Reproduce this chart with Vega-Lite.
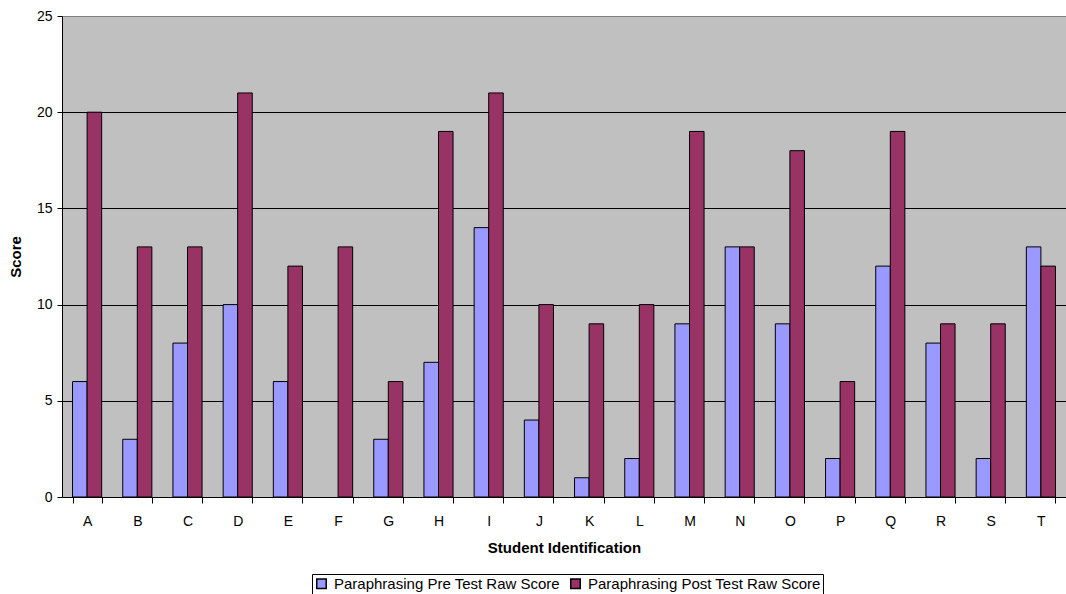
{
  "$schema": "https://vega.github.io/schema/vega-lite/v6.json",
  "autosize": "none",
  "width": 1004,
  "height": 481,
  "padding": {"left": 62, "top": 16, "right": 0, "bottom": 97},
  "background": "white",
  "config": {
    "font": "Liberation Sans",
    "view": {"fill": "#C0C0C0", "stroke": null}
  },
  "data": {
    "values": [
      {"student": "A", "test": "Paraphrasing Pre Test Raw Score", "score": 6},
      {"student": "A", "test": "Paraphrasing Post Test Raw Score", "score": 20},
      {"student": "B", "test": "Paraphrasing Pre Test Raw Score", "score": 3},
      {"student": "B", "test": "Paraphrasing Post Test Raw Score", "score": 13},
      {"student": "C", "test": "Paraphrasing Pre Test Raw Score", "score": 8},
      {"student": "C", "test": "Paraphrasing Post Test Raw Score", "score": 13},
      {"student": "D", "test": "Paraphrasing Pre Test Raw Score", "score": 10},
      {"student": "D", "test": "Paraphrasing Post Test Raw Score", "score": 21},
      {"student": "E", "test": "Paraphrasing Pre Test Raw Score", "score": 6},
      {"student": "E", "test": "Paraphrasing Post Test Raw Score", "score": 12},
      {"student": "F", "test": "Paraphrasing Pre Test Raw Score", "score": 0},
      {"student": "F", "test": "Paraphrasing Post Test Raw Score", "score": 13},
      {"student": "G", "test": "Paraphrasing Pre Test Raw Score", "score": 3},
      {"student": "G", "test": "Paraphrasing Post Test Raw Score", "score": 6},
      {"student": "H", "test": "Paraphrasing Pre Test Raw Score", "score": 7},
      {"student": "H", "test": "Paraphrasing Post Test Raw Score", "score": 19},
      {"student": "I", "test": "Paraphrasing Pre Test Raw Score", "score": 14},
      {"student": "I", "test": "Paraphrasing Post Test Raw Score", "score": 21},
      {"student": "J", "test": "Paraphrasing Pre Test Raw Score", "score": 4},
      {"student": "J", "test": "Paraphrasing Post Test Raw Score", "score": 10},
      {"student": "K", "test": "Paraphrasing Pre Test Raw Score", "score": 1},
      {"student": "K", "test": "Paraphrasing Post Test Raw Score", "score": 9},
      {"student": "L", "test": "Paraphrasing Pre Test Raw Score", "score": 2},
      {"student": "L", "test": "Paraphrasing Post Test Raw Score", "score": 10},
      {"student": "M", "test": "Paraphrasing Pre Test Raw Score", "score": 9},
      {"student": "M", "test": "Paraphrasing Post Test Raw Score", "score": 19},
      {"student": "N", "test": "Paraphrasing Pre Test Raw Score", "score": 13},
      {"student": "N", "test": "Paraphrasing Post Test Raw Score", "score": 13},
      {"student": "O", "test": "Paraphrasing Pre Test Raw Score", "score": 9},
      {"student": "O", "test": "Paraphrasing Post Test Raw Score", "score": 18},
      {"student": "P", "test": "Paraphrasing Pre Test Raw Score", "score": 2},
      {"student": "P", "test": "Paraphrasing Post Test Raw Score", "score": 6},
      {"student": "Q", "test": "Paraphrasing Pre Test Raw Score", "score": 12},
      {"student": "Q", "test": "Paraphrasing Post Test Raw Score", "score": 19},
      {"student": "R", "test": "Paraphrasing Pre Test Raw Score", "score": 8},
      {"student": "R", "test": "Paraphrasing Post Test Raw Score", "score": 9},
      {"student": "S", "test": "Paraphrasing Pre Test Raw Score", "score": 2},
      {"student": "S", "test": "Paraphrasing Post Test Raw Score", "score": 9},
      {"student": "T", "test": "Paraphrasing Pre Test Raw Score", "score": 13},
      {"student": "T", "test": "Paraphrasing Post Test Raw Score", "score": 12}
    ]
  },
  "mark": {"type": "bar", "stroke": "black"},
  "encoding": {
    "x": {
      "field": "student",
      "type": "nominal",
      "sort": null,
      "scale": {"paddingInner": 0.42, "paddingOuter": 0.21},
      "axis": {
        "title": "Student Identification",
        "titleFontSize": 15,
        "titleFontWeight": "bold",
        "titleColor": "black",
        "titlePadding": 12,
        "labelAngle": 0,
        "labelFontSize": 14,
        "labelColor": "black",
        "labelPadding": 11,
        "tickBand": "extent",
        "tickColor": "black",
        "tickSize": 6,
        "domainColor": "black",
        "grid": false
      }
    },
    "xOffset": {
      "field": "test",
      "sort": ["Paraphrasing Pre Test Raw Score", "Paraphrasing Post Test Raw Score"],
      "scale": {"paddingInner": 0, "paddingOuter": 0}
    },
    "y": {
      "field": "score",
      "type": "quantitative",
      "scale": {"domain": [0, 25]},
      "axis": {
        "title": "Score",
        "titleFontSize": 15,
        "titleFontWeight": "bold",
        "titleColor": "black",
        "titlePadding": 13,
        "values": [0, 5, 10, 15, 20, 25],
        "labelFontSize": 14,
        "labelColor": "black",
        "labelPadding": 5,
        "tickColor": "black",
        "tickSize": 5,
        "domainColor": "black",
        "grid": true,
        "gridColor": {"condition": {"test": "datum.value == 25", "value": "#808080"}, "value": "black"},
        "gridOpacity": 1
      }
    },
    "strokeWidth": {
      "condition": {"test": "datum.score == 0", "value": 0},
      "value": 1
    },
    "color": {
      "field": "test",
      "type": "nominal",
      "sort": ["Paraphrasing Pre Test Raw Score", "Paraphrasing Post Test Raw Score"],
      "scale": {"range": ["#9999FF", "#993366"]},
      "legend": {
        "title": null,
        "orient": "none",
        "direction": "horizontal",
        "legendX": 250,
        "legendY": 558,
        "labelFontSize": 15,
        "labelColor": "black",
        "labelLimit": 0,
        "symbolType": "square",
        "symbolSize": 90,
        "symbolStrokeColor": "black",
        "symbolStrokeWidth": 1.5,
        "symbolOpacity": 1,
        "columnPadding": 7,
        "labelOffset": 5,
        "strokeColor": "black",
        "padding": 2,
        "fillColor": "white"
      }
    }
  }
}
